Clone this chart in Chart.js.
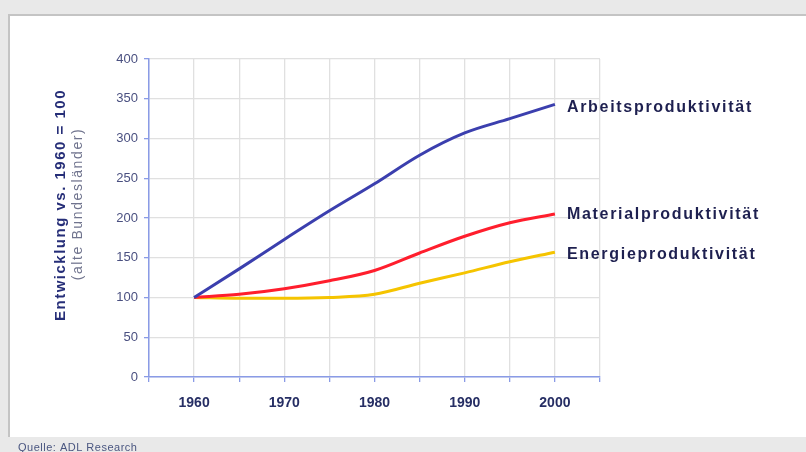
<!DOCTYPE html>
<html>
<head>
<meta charset="utf-8">
<script src="https://cdn.jsdelivr.net/npm/chart.js@4"></script>
<style>
  html, body { margin: 0; padding: 0; background: #e9e9e9; }
  #wrap { width: 806px; height: 452px; }
</style>
</head>
<body>
<div id="wrap"><canvas id="grafico" width="806" height="452"></canvas></div>
<script>
// Jahre und Werte (1960 = 100)
const jahre = [1960, 1965, 1970, 1975, 1980, 1985, 1990, 1995, 2000];
const arbeit = [100, 136, 173, 209, 243, 279, 307, 325, 343];
const material = [100, 104, 111, 121, 134, 156, 177, 194, 205];
const energie = [100, 99, 99, 100, 104, 118, 131, 145, 157];
const yTicks = [0, 50, 100, 150, 200, 250, 300, 350, 400];
const xLabels = [1960, 1970, 1980, 1990, 2000];

const namen = ['Arbeitsproduktivität', 'Materialproduktivität', 'Energieproduktivität'];
const farben = ['#3b3fae', '#ff1e2d', '#f5c400'];

function punkte(werte) {
    return jahre.map((j, i) => ({ x: j, y: werte[i] }));
}

// Rahmen, Achsentitel, Beschriftungen und Quelle
const deko = {
    id: 'deko',
    beforeDraw(chart) {
        const c = chart.ctx;
        c.save();
        c.fillStyle = '#e9e9e9';
        c.fillRect(0, 0, 806, 452);
        c.fillStyle = '#ffffff';
        c.fillRect(9, 15, 797, 422);
        c.fillStyle = '#c4c4c4';
        c.fillRect(9, 14, 797, 2);
        c.fillRect(8, 14, 2, 423);
        c.restore();
    },
    afterDraw(chart) {
        const c = chart.ctx;
        const y = chart.scales.y;
        const x = chart.scales.x;
        c.save();
        // Y-Achsentitel
        const mitte = (y.top + y.bottom) / 2;
        c.translate(61, mitte - 13);
        c.rotate(-Math.PI / 2);
        c.textAlign = 'center';
        c.textBaseline = 'middle';
        c.fillStyle = '#262e78';
        c.font = 'bold 15px "Liberation Sans", Arial, sans-serif';
        c.letterSpacing = '1.5px';
        c.fillText('Entwicklung vs. 1960 = 100', 0, 0);
        c.fillStyle = '#70748e';
        c.font = '14px "Liberation Sans", Arial, sans-serif';
        c.letterSpacing = '1.6px';
        c.fillText('(alte Bundesländer)', 1, 17);
        c.restore();

        // Reihenbeschriftungen rechts
        c.save();
        c.font = 'bold 16px "Liberation Sans", Arial, sans-serif';
        c.letterSpacing = '1.7px';
        c.fillStyle = '#1e2050';
        c.textBaseline = 'middle';
        const letzte = [arbeit, material, energie].map(r => r[r.length - 1]);
        const versatz = [3, 1, 2];
        letzte.forEach((w, i) => {
            c.fillText(namen[i], x.getPixelForValue(2000) + 12, y.getPixelForValue(w) + versatz[i]);
        });
        c.restore();

        // Quelle
        c.save();
        c.font = '11px "Liberation Sans", Arial, sans-serif';
        c.letterSpacing = '0.5px';
        c.fillStyle = '#4a5680';
        c.textBaseline = 'top';
        c.fillText('Quelle: ADL Research', 18, 442);
        c.restore();
    }
};

const ctx = document.getElementById('grafico').getContext('2d');

const grafico = new Chart(ctx, {
    type: 'line',
    data: {
        datasets: namen.map((n, i) => ({
            label: n,
            data: punkte([arbeit, material, energie][i]),
            borderColor: farben[i],
            backgroundColor: farben[i],
            borderWidth: 3,
            pointRadius: 0,
            tension: 0.4,
            cubicInterpolationMode: 'monotone'
        }))
    },
    options: {
        responsive: false,
        animation: false,
        layout: { padding: { left: 0, top: 59, right: 206, bottom: 0 } },
        plugins: {
            legend: { display: false },
            tooltip: { enabled: false }
        },
        scales: {
            x: {
                type: 'linear',
                min: 1955,
                max: 2005,
                afterFit(s) { s.height = 75; },
                afterBuildTicks(s) {
                    s.ticks = [];
                    for (let v = 1955; v <= 2005; v += 5) s.ticks.push({ value: v });
                },
                border: { color: '#8a9be6', width: 1.5 },
                grid: { color: '#e0e0e0', tickColor: '#8a9be6', tickLength: 5, lineWidth: 1.3 },
                ticks: {
                    padding: 13,
                    color: '#262e64',
                    font: { family: '"Liberation Sans", Arial, sans-serif', size: 14, weight: 'bold' },
                    maxRotation: 0,
                    autoSkip: false,
                    callback: v => xLabels.includes(v) ? String(v) : ''
                }
            },
            y: {
                min: 0,
                max: 400,
                afterFit(s) { s.width = 149; },
                afterBuildTicks(s) { s.ticks = yTicks.map(v => ({ value: v })); },
                border: { color: '#8a9be6', width: 1.5 },
                grid: { color: '#e0e0e0', tickColor: '#8a9be6', tickLength: 5, lineWidth: 1.3 },
                ticks: {
                    padding: 6,
                    color: '#4a5080',
                    font: { family: '"Liberation Sans", Arial, sans-serif', size: 13 }
                }
            }
        }
    },
    plugins: [deko]
});
</script>
</body>
</html>
